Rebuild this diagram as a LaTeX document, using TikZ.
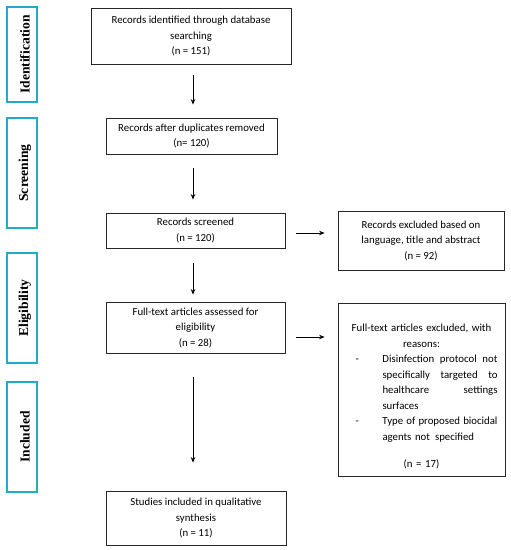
\documentclass[tikz,border=0pt]{standalone}
\usepackage{fontspec}
\setmainfont{Carlito}
\newfontfamily\sidefont{Liberation Serif}
\usetikzlibrary{arrows.meta}
\definecolor{sidecyan}{RGB}{32,172,198}
\newcommand\exline[2]{\makebox[13pt]{}\makebox[27pt][l]{#1}\makebox[115pt][l]{#2}\makebox[3pt]{}}
\begin{document}
\begin{tikzpicture}[x=1pt,y=-1pt,
  box/.style={draw=black!85, line width=0.8pt, align=center, inner sep=0pt,
    font=\fontsize{10.8}{15.5}\selectfont},
  side/.style={draw=sidecyan, line width=2.8pt, minimum width=30pt, inner sep=0pt},
  sidelabel/.style={rotate=90, font=\sidefont\bfseries\fontsize{13.6}{16}\selectfont},
  arr/.style={draw=black, line width=0.8pt, -{Stealth[length=5.5pt,width=4.5pt]}}]
\useasboundingbox (0,0) rectangle (511,550);
% side phase boxes
\node[side, minimum height=95pt] (sid) at (22,54.5) {};
\node[sidelabel] (lid) at (25,54.5) {Identification};
\node[side, minimum height=110pt] (ssc) at (22,173) {};
\node[sidelabel] (lsc) at (25,173) {Screening};
\node[side, minimum height=110pt] (sel) at (22,308) {};
\node[sidelabel] (lel) at (25,308) {Eligibility};
\node[side, minimum height=110pt] (sin) at (22,437) {};
\node[sidelabel] (lin) at (25,437) {Included};
% main boxes
\node[box, minimum width=200pt, minimum height=56pt] (b1) at (191,36)
  {Records identified through database\\searching\\(n = 151)};
\node[box, minimum width=171pt, minimum height=36pt] (b2) at (191.5,136)
  {Records after duplicates removed\\(n= 120)};
\node[box, minimum width=179pt, minimum height=35pt] (b3) at (195.5,230.5)
  {Records screened\\(n = 120)};
\node[box, minimum width=179pt, minimum height=51pt] (b4) at (195.5,327.5)
  {Full-text articles assessed for\\eligibility\\(n = 28)};
\node[box, minimum width=180pt, minimum height=54pt] (b5) at (196,518)
  {Studies included in qualitative\\synthesis\\(n = 11)};
% right boxes
\node[box, minimum width=166pt, minimum height=59pt] (r1) at (421,240.5)
  {Records excluded based on\\language, title and abstract\\(n = 92)};
\node[box, minimum width=167pt, minimum height=173pt, text width=158pt] (r2) at (421.5,389.5)
  {\mbox{}\\[6.5pt]
   \mbox{Full-text articles excluded, with}\\\mbox{reasons:}\\
   \exline{-}{Disinfection\hfill protocol\hfill not}\\
   \exline{}{specifically\hfill targeted\hfill to}\\
   \exline{}{healthcare\hfill settings}\\
   \exline{}{surfaces}\\
   \exline{-}{Type\hfill of\hfill proposed\hfill biocidal}\\
   \exline{}{agents not\hspace{5pt}specified}\\[12pt]
   \mbox{(n = 17)}};
% connectors
\coordinate (ax) at (193,0);
\coordinate (h1) at (0,233);
\coordinate (h2) at (0,337);
\draw[arr, shorten <=11pt, shorten >=13pt] (b1.south -| ax) -- (b2.north -| ax);
\draw[arr, shorten <=14pt, shorten >=13pt] (b2.south -| ax) -- (b3.north -| ax);
\draw[arr, shorten <=15pt, shorten >=7pt] (b3.south -| ax) -- (b4.north -| ax);
\draw[arr, shorten <=24pt, shorten >=28pt] (b4.south -| ax) -- (b5.north -| ax);
\draw[arr, shorten <=11pt, shorten >=13pt] (b3.east |- h1) -- (r1.west |- h1);
\draw[arr, shorten <=11pt, shorten >=13pt] (b4.east |- h2) -- (r2.west |- h2);
\end{tikzpicture}
\end{document}
